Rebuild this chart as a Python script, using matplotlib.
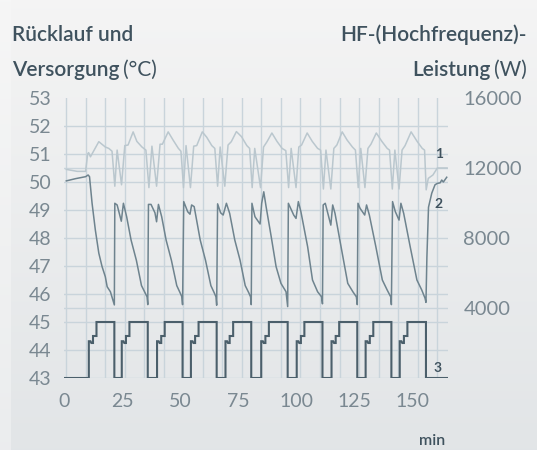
import numpy as np
import matplotlib.pyplot as plt

plt.rcParams['font.family'] = ['Lato', 'DejaVu Sans']

# ---- data --------------------------------------------------------------------
# series 1: upper temperature curve (deg C)
t1 = [1.0, 5.7, 9.3, 10.2, 10.6, 11.4, 15.0, 17.8, 19.3, 20.7,
      21.9, 22.9, 24.8, 26.2, 27.6, 29.8, 31.4, 33.6, 35.3,
      36.6, 37.9, 39.9, 41.4, 42.4, 44.9, 47.0, 49.3, 50.4,
      51.5, 52.6, 54.5, 55.9, 57.2, 59.6, 61.5, 63.7, 65.0,
      66.2, 67.3, 69.3, 70.7, 72.1, 74.3, 76.5, 78.8, 80.0,
      81.1, 82.2, 84.7, 86.0, 87.5, 89.6, 91.8, 94.0, 95.6,
      96.8, 97.9, 100.0, 101.2, 102.4, 104.8, 107.0, 109.3, 110.6,
      111.8, 112.9, 115.0, 116.3, 117.6, 119.9, 122.0, 124.3, 125.6,
      126.8, 127.9, 129.7, 131.0, 132.3, 134.6, 137.0, 139.3, 140.3,
      141.5, 142.6, 144.4, 145.7, 147.0, 149.6, 152.2, 154.4, 155.4,
      156.1, 157.0, 159.0, 160.9, 165.1]
v1 = [50.45, 50.38, 50.38, 51.0, 51.05, 50.9, 51.44, 51.25, 51.2, 51.1,
      49.85, 51.14, 49.9, 51.3, 51.32, 51.79, 51.45, 51.25, 51.14,
      49.8, 51.28, 49.85, 51.35, 51.35, 51.79, 51.5, 51.2, 51.1,
      49.8, 51.3, 49.8, 51.28, 51.3, 51.79, 51.6, 51.3, 51.2,
      49.85, 51.25, 49.85, 51.32, 51.44, 51.8, 51.62, 51.3, 51.2,
      49.8, 51.2, 49.8, 51.25, 51.44, 51.75, 51.45, 51.2, 51.12,
      49.8, 51.2, 49.8, 51.25, 51.32, 51.75, 51.45, 51.2, 51.14,
      49.75, 51.14, 49.75, 51.2, 51.32, 51.79, 51.5, 51.25, 51.14,
      49.8, 51.2, 49.8, 51.2, 51.35, 51.75, 51.45, 51.2, 51.14,
      49.75, 51.14, 49.75, 51.14, 51.3, 51.79, 51.45, 51.2, 51.14,
      49.72, 50.13, 50.25, 50.5, 50.5]

# series 2: lower temperature curve (deg C)
t2 = [1.0, 5.0, 9.3, 10.4, 11.0, 12.1, 13.5, 15.0, 16.4, 17.8, 18.6, 20.0, 21.7,
      21.9, 22.9, 24.7, 25.6, 27.0, 28.9, 31.2, 33.4, 34.9, 35.8, 36.1,
      36.4, 37.5, 39.2, 39.9, 40.7, 42.1, 44.0, 46.3, 48.6, 50.0, 50.8, 51.1,
      51.6, 53.3, 54.3, 55.0, 56.1, 58.7, 61.0, 63.3, 64.7, 65.5, 65.8,
      66.2, 67.5, 68.6, 70.0, 71.4, 73.6, 75.9, 78.1, 79.6, 80.4, 80.7,
      81.0, 82.3, 84.5, 85.2, 86.1, 87.1, 89.3, 91.4, 93.5, 95.7, 96.4,
      96.7, 99.0, 100.0, 101.0, 102.1, 105.0, 107.1, 109.3, 111.0, 111.4,
      111.7, 112.6, 115.0, 115.8, 116.8, 119.4, 122.3, 124.5, 126.0, 126.4,
      126.7, 127.6, 129.6, 130.4, 131.6, 134.4, 137.2, 139.3, 140.8, 141.1,
      141.6, 142.8, 144.4, 145.2, 146.4, 149.2, 152.1, 154.2, 155.6, 156.0,
      156.4, 157.1, 158.5, 159.9, 160.9, 162.1, 162.8, 163.5, 164.95]
v2 = [50.04, 50.12, 50.19, 50.25, 50.19, 49.24, 48.29, 47.46, 46.98, 46.62, 46.26, 46.08, 45.61,
      49.24, 49.18, 48.6, 49.24, 48.76, 47.93, 47.2, 46.3, 46.05, 45.9, 45.62,
      49.2, 49.2, 48.9, 48.58, 49.2, 48.76, 47.93, 47.2, 46.3, 46.05, 45.9, 45.62,
      49.3, 48.94, 48.85, 49.18, 49.12, 47.93, 47.2, 46.3, 46.05, 45.9, 45.6,
      49.22, 48.9, 48.82, 49.24, 48.88, 47.93, 47.2, 46.3, 46.05, 45.9, 45.62,
      49.24, 48.76, 48.5, 49.24, 49.65, 49.12, 48.05, 46.98, 46.38, 46.08, 45.55,
      49.24, 48.82, 48.7, 49.3, 48.94, 47.69, 46.5, 46.08, 45.9, 45.65,
      49.18, 49.24, 48.46, 49.18, 48.88, 47.69, 46.38, 46.08, 45.9, 45.62,
      49.24, 49.06, 48.82, 49.18, 48.82, 47.69, 46.5, 46.14, 45.9, 45.62,
      49.3, 48.94, 48.64, 49.24, 48.88, 47.69, 46.5, 46.14, 45.85, 45.7,
      47.3, 49.1, 49.6, 49.9, 49.95, 49.97, 50.07, 50.0, 50.17]

# series 3: HF power pulses (W), one row of times per pulse
pulse_t = [
    [10.7, 10.7, 11.4, 11.8, 12.5, 12.5, 14.0, 14.0, 21.7, 21.7],
    [24.9, 24.9, 25.6, 26.0, 26.7, 26.7, 28.2, 28.2, 36.1, 36.1],
    [40.1, 40.1, 40.8, 41.2, 41.9, 41.9, 43.4, 43.4, 51.1, 51.1],
    [54.7, 54.7, 55.4, 55.8, 56.5, 56.5, 58.0, 58.0, 65.8, 65.8],
    [69.6, 69.6, 70.3, 70.7, 71.4, 71.4, 72.9, 72.9, 80.7, 80.7],
    [85.0, 85.0, 85.7, 86.1, 86.8, 86.8, 88.3, 88.3, 96.4, 96.4],
    [100.3, 100.3, 101.0, 101.4, 102.1, 102.1, 103.6, 103.6, 111.4, 111.4],
    [115.3, 115.3, 116.0, 116.4, 117.1, 117.1, 118.6, 118.6, 126.4, 126.4],
    [130.0, 130.0, 130.7, 131.1, 131.8, 131.8, 133.3, 133.3, 141.1, 141.1],
    [144.7, 144.7, 145.4, 145.8, 146.5, 146.5, 148.0, 148.0, 156.0, 156.0],
]
pulse_w = [0, 2100, 2100, 2000, 2000, 2400, 2400, 3200, 3200, 0]

x_ticks = [0, 25, 50, 75, 100, 125, 150]
left_ticks = [43, 44, 45, 46, 47, 48, 49, 50, 51, 52, 53]
right_ticks = [4000, 8000, 12000, 16000]

# ---- styling -----------------------------------------------------------------
c_light = '#bac7ce'
c_mid = '#6e838e'
c_dark = '#4b5f6b'
c_grid = '#c9d4db'
c_tick = '#7a8891'
c_title = '#3f525e'

W, H = 537, 450
fig = plt.figure(figsize=(W / 100, H / 100), dpi=100)

# soft vertical gradient background
bg = fig.add_axes([0, 0, 1, 1], zorder=-10)
bg.axis('off')
top = np.array([0.958, 0.958, 0.958])
bot = np.array([0.886, 0.898, 0.906])
g = np.linspace(0, 1, H)[:, None, None]
img = np.repeat(top + (bot - top) * g, W, axis=1)
img[:, :11] = img[:, :11] * 0.6 + 0.4 * 0.975
bg.imshow(img, aspect='auto', extent=[0, 1, 0, 1], interpolation='bilinear')

ax = fig.add_axes([64 / W, 1 - 378 / H, 384 / W, 280 / H])
ax2 = ax.twinx()
ax.set_zorder(3)
ax2.set_zorder(2)
ax.patch.set_visible(False)
ax2.patch.set_visible(False)

xmin, xmax = 1.0, 165.5
ax.set_xlim(xmin, xmax)
ax.set_ylim(43, 53)
ax2.set_ylim(0, 16000)

# grid (drawn on the rear axes so every curve sits above it)
for gx in np.linspace(1.0, 160.8, 20):
    ax2.axvline(gx, color=c_grid, lw=1.0, zorder=0)
for gy in list(np.arange(0, 16000, 1600)) + [4000, 12000]:
    ax2.axhline(gy, color=c_grid, lw=1.0, zorder=0)

# curves
t3 = [0.0] + [t for row in pulse_t for t in row] + [xmax]
w3 = [0] + pulse_w * len(pulse_t) + [0]
ax2.plot(t3, w3, color=c_dark, lw=1.5, zorder=3, solid_joinstyle='miter')
ax.plot(t1, v1, color=c_light, lw=1.1, zorder=3)
ax.plot(t2, v2, color=c_mid, lw=1.1, zorder=4)

for a in (ax, ax2):
    for s in a.spines.values():
        s.set_visible(False)
    a.tick_params(length=0, labelsize=14, labelcolor=c_tick)

ax.set_xticks(x_ticks)
ax.set_yticks(left_ticks)
ax2.set_yticks(right_ticks)
ax.tick_params(axis='y', pad=9)
ax.tick_params(axis='x', pad=11)
ax2.tick_params(axis='y', pad=11, labelsize=14.5)

# series numbers
ax.text(161.6, 51.0, '1', color=c_title, fontsize=10, fontweight='bold',
        ha='center', va='center')
ax.text(161.6, 49.2, '2', color=c_title, fontsize=10, fontweight='bold',
        ha='center', va='center')
ax.text(160.8, 43.36, '3', color=c_title, fontsize=10, fontweight='bold',
        ha='center', va='center')

# titles
tfs = 15
tw = 'semibold'
fig.text(12 / W, 1 - 35 / H, 'Rücklauf und', color=c_title, fontsize=tfs,
         fontweight=tw, ha='left', va='center')
t_vers = fig.text(12 / W, 1 - 70 / H, 'Versorgung', color=c_title, fontsize=tfs,
                  fontweight=tw, ha='left', va='center')
fig.text(527 / W, 1 - 35 / H, 'HF-(Hochfrequenz)-', color=c_title, fontsize=tfs,
         fontweight=tw, ha='right', va='center')
t_w = fig.text(527 / W, 1 - 70 / H, '(W)', color=c_title, fontsize=tfs,
               fontweight='normal', ha='right', va='center')

r = fig.canvas.get_renderer()
bb = t_vers.get_window_extent(r)
fig.text((bb.x1 + 4) / W, 1 - 70 / H, '(°C)', color=c_title, fontsize=tfs,
         fontweight='normal', ha='left', va='center')
bb = t_w.get_window_extent(r)
fig.text((bb.x0 - 4) / W, 1 - 70 / H, 'Leistung', color=c_title, fontsize=tfs,
         fontweight=tw, ha='right', va='center')

fig.text(432 / W, 1 - 441 / H, 'min', color=c_title, fontsize=11.5,
         fontweight=tw, ha='center', va='center')

fig.savefig('out.png', dpi=100)
